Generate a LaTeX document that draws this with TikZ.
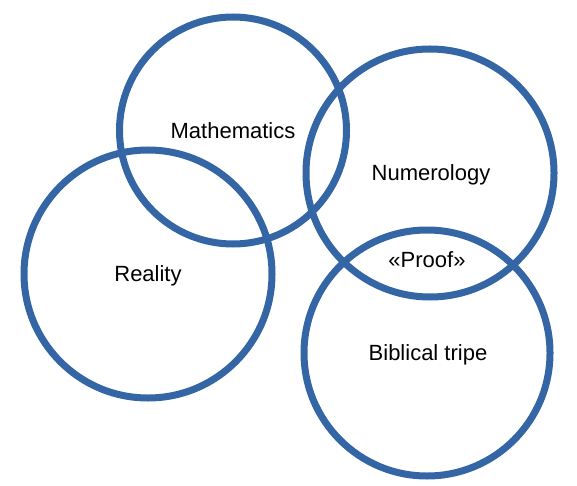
\documentclass[tikz,border=0pt]{standalone}
\usepackage{fontspec}
\setmainfont{Liberation Sans}
\definecolor{ringblue}{RGB}{52,101,164}
\begin{document}
\begin{tikzpicture}[x=1pt,y=-1pt,
  ring/.style={draw=ringblue,line width=7pt,circle,inner sep=0pt},
  lbl/.style={font=\fontsize{22}{26}\selectfont,inner sep=0pt,anchor=base}]
\useasboundingbox (0,0) rectangle (577,486);
\node[ring,minimum size=227pt] (math) at (233,130.5) {};
\node[ring,minimum size=248pt] (real) at (148,274) {};
\node[ring,minimum size=248pt] (num) at (430,173) {};
\node[ring,minimum size=246pt] (bib) at (427,353) {};
\node[lbl] (tmath) at (233,139) {Mathematics};
\node[lbl] (tnum) at (431,181) {Numerology};
\node[lbl] (treal) at (148,281) {Reality};
\node[lbl] (tproof) at (427,267) {«Proof»};
\node[lbl] (tbib) at (428,360) {Biblical tripe};
\end{tikzpicture}
\end{document}
